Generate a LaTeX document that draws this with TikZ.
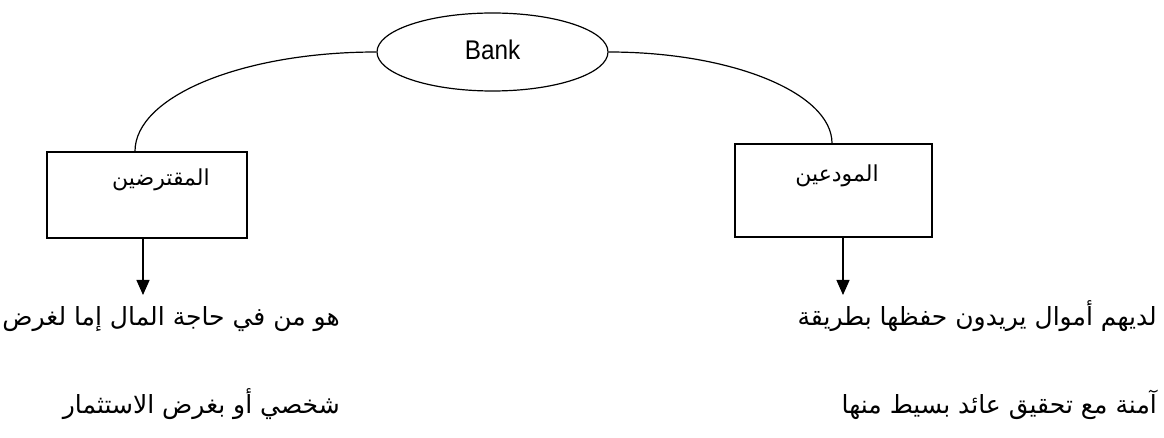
\documentclass[tikz,border=0pt]{standalone}
\usepackage{fontspec}
\usetikzlibrary{shapes.geometric,arrows.meta,calc}
\TeXXeTstate=1
\newfontfamily\arabicfont[Script=Arabic]{DejaVu Sans}
\newfontfamily\latinsans[FakeStretch=0.9]{Liberation Sans}

\begin{document}
\begin{tikzpicture}[x=1pt,y=-1pt,
  bankshape/.style={draw, ellipse, line width=1.2pt, inner sep=0pt,
    minimum width=231pt, minimum height=78pt},
  party/.style={draw, line width=1.4pt, inner sep=0pt},
  link/.style={line width=1.2pt},
  flow/.style={line width=1.3pt, -{Triangle[width=13pt,length=15pt]}},
  boxlabel/.style={font=\arabicfont\fontsize{22}{24}\selectfont, inner sep=0pt},
  note/.style={font=\arabicfont\fontsize{25}{28}\selectfont, inner sep=0pt, anchor=base east}]

\useasboundingbox (0,0) rectangle (1164,438);

% central bank ellipse
\node[bankshape] (bank) at (492.5,52) {};
\node[font=\latinsans\fontsize{27}{30}\selectfont, inner sep=0pt] (banktext) at (492.5,50) {Bank};

% the two parties
\node[party, minimum width=200pt, minimum height=86pt] (borrowers) at (147,195) {};
\node[party, minimum width=197pt, minimum height=93pt] (depositors) at (833.5,190.5) {};
\node[boxlabel] (borrowerstext) at (161,180) {\beginR المقترضين\endR};
\node[boxlabel] (depositorstext) at (837,176) {\beginR المودعين\endR};

% arcs from the bank to each party
\coordinate (ljoin) at (135,152);
\coordinate (rjoin) at (832,144);
\draw[link] (bank.west) .. controls +(-134,0) and +(0,-55) .. (borrowers.north -| ljoin);
\draw[link] (bank.east) .. controls +(124,0) and +(0,-50) .. (depositors.north -| rjoin);

% arrows down to the descriptions
\coordinate (ltip) at (143,295);
\coordinate (rtip) at (843,295);
\draw[flow] (borrowers.south -| ltip) -- (ltip);
\draw[flow] (depositors.south -| rtip) -- (rtip);

% descriptions
\node[note] (bline1) at (340,325) {\beginR هو من في حاجة المال إما لغرض\endR};
\node[note] (bline2) at (340,413) {\beginR شخصي أو بغرض الاستثمار\endR};
\node[note] (dline1) at (1157,325) {\beginR لديهم أموال يريدون حفظها بطريقة\endR};
\node[note] (dline2) at (1157,413) {\beginR آمنة مع تحقيق عائد بسيط منها\endR};
\end{tikzpicture}
\end{document}
